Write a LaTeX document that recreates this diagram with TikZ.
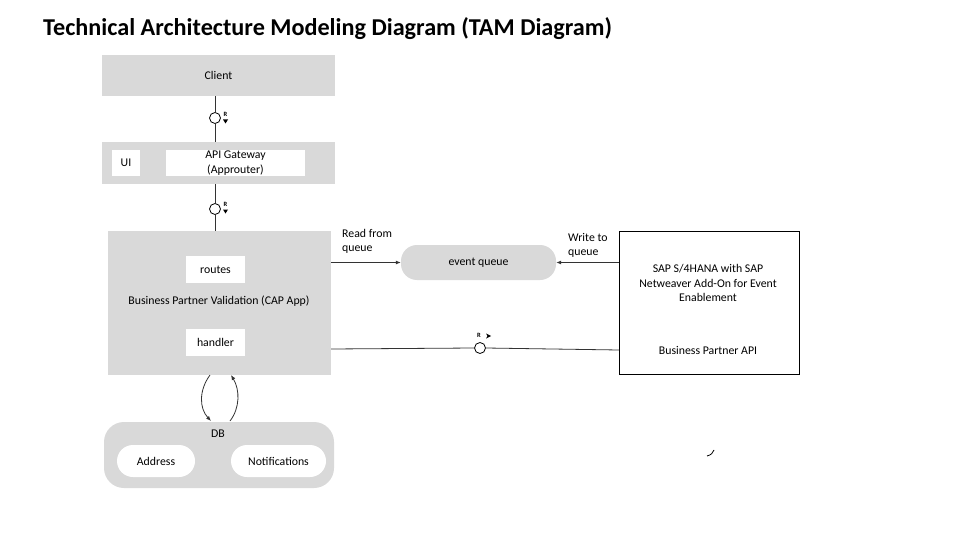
\documentclass[tikz,border=0pt]{standalone}
\usepackage{fontspec}
\setmainfont{Carlito}
\usetikzlibrary{arrows.meta,positioning,calc}
\definecolor{boxgray}{RGB}{217,217,217}
\tikzset{
  graybox/.style={draw=none,fill=boxgray,inner sep=0pt},
  whitebox/.style={draw=none,fill=white,inner sep=0pt,align=center},
  pill/.style={draw=none,inner sep=0pt,rounded corners=16pt},
  port/.style={circle,draw=black,fill=white,line width=0.8pt,minimum size=11pt,inner sep=0pt},
  lbl/.style={font=\fontsize{11.8}{14.5}\selectfont,align=center,inner sep=0pt},
  conn/.style={line width=0.8pt,draw=black!80},
  arr/.style={conn,-{Latex[length=5pt,width=4pt]}},
  rmark/.style={font=\bfseries\fontsize{6.5}{7}\selectfont,inner sep=0pt}
}
\begin{document}
\begin{tikzpicture}[x=1pt,y=-1pt]
\useasboundingbox (0,0) rectangle (960,540);
\fill[white] (0,0) rectangle (960,540);
% title
\node[anchor=west,inner sep=0pt,font=\bfseries\fontsize{24.2}{28}\selectfont] (title) at (43,29) {Technical Architecture Modeling Diagram (TAM Diagram)};

% Client
\node[graybox,minimum width=233pt,minimum height=41pt] (client) at (218.5,75.5) {};
\node[lbl] (clienttxt) at (client) {Client};

% Gateway
\node[graybox,minimum width=233pt,minimum height=42pt] (gw) at (218.5,163) {};
\node[whitebox,minimum width=28pt,minimum height=26pt,lbl] (ui) at (126,163) {UI};
\node[whitebox,minimum width=139pt,minimum height=26pt,lbl] (apigw) at (235.5,163) {API Gateway\\(Approuter)};

% port client-gateway
\node[port] (p1) at (215,118) {};
\draw[conn] (p1 |- client.south) -- (p1.north);
\draw[conn] (p1.south) -- (p1 |- gw.north);
\node[rmark] (r1) at (225.5,114) {R};
\fill (223,119.5) -- (228,119.5) -- (225.5,123.5) -- cycle;

% CAP app
\node[graybox,minimum width=223pt,minimum height=144pt] (cap) at (219.5,303) {};
\node[whitebox,minimum width=59pt,minimum height=27pt,lbl] (routes) at (215.5,269.5) {routes};
\node[lbl] (captxt) at (219,301) {Business Partner Validation (CAP App)};
\node[whitebox,minimum width=59pt,minimum height=27pt,lbl] (handler) at (215.5,342.5) {handler};

% port gateway-cap
\node[port] (p2) at (215,209) {};
\draw[conn] (p2 |- gw.south) -- (p2.north);
\draw[conn] (p2.south) -- (p2 |- cap.north);
\node[rmark] (r2) at (225.5,204) {R};
\fill (223,209.5) -- (228,209.5) -- (225.5,213.5) -- cycle;

% event queue
\node[graybox,pill,minimum width=155pt,minimum height=35pt,lbl] (queue) at (478.5,262.5) {event queue};

% SAP box
\node[draw=black,line width=0.8pt,fill=white,minimum width=180pt,minimum height=143pt,inner sep=0pt] (sap) at (709,302.5) {};
\node[lbl] (saptxt) at (708,283) {SAP S/4HANA with SAP\\Netweaver Add-On for Event\\Enablement};
\node[lbl] (bpapi) at (708,350) {Business Partner API};

% read from queue
\coordinate (readstart) at (cap.east |- queue.west);
\draw[arr] (readstart) -- (queue.west);
\node[lbl,align=left,anchor=north west] (readlbl) at (342,229) {Read from\\queue};

% write to queue
\coordinate (writestart) at (sap.west |- queue.east);
\draw[arr] (writestart) -- (queue.east);
\node[lbl,align=left,anchor=north west] (writelbl) at (568,233) {Write to\\queue};

% handler to business partner API
\node[port] (p3) at (480,348) {};
\coordinate (hstart) at (331,349);
\coordinate (hend) at (619,350);
\draw[conn] (hstart) -- (p3.west);
\draw[conn] (p3.east) -- (hend);
\node[rmark] (r3) at (479,335) {R};
\fill (486,333.5) -- (491,336) -- (486,338.5) -- (487.5,336) -- cycle;

% DB
\node[graybox,rounded corners=20pt,minimum width=230pt,minimum height=66pt] (db) at (219,455) {};
\node[lbl] (dbtxt) at (218,434) {DB};
\node[fill=white,pill,minimum width=78pt,minimum height=32pt,lbl] (addr) at (156,461) {Address};
\node[fill=white,pill,minimum width=95pt,minimum height=32pt,lbl] (notif) at (278.5,461) {Notifications};

% cap <-> db curved arrows
\coordinate (c1s) at (210,375);
\coordinate (c1e) at (211,421);
\coordinate (c2s) at (230,421);
\coordinate (c2e) at (231,375);
\draw[arr] (c1s) .. controls (199,390) and (199,408) .. (c1e);
\draw[arr] (c2s) .. controls (240,408) and (240,390) .. (c2e);

% stray mark
\draw[line width=0.8pt] (707,456) .. controls (711,455) and (713,453) .. (714,450);
\end{tikzpicture}
\end{document}
